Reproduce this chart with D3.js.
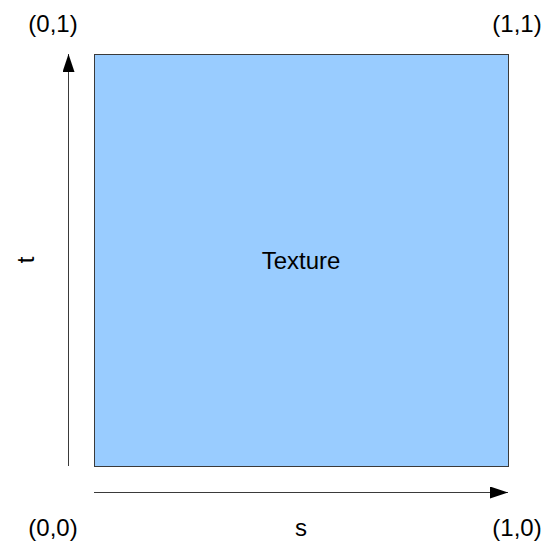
<!DOCTYPE html>
<html>
<head>
<meta charset="utf-8">
<script src="https://cdn.jsdelivr.net/npm/d3@7"></script>
<style>
  body { margin: 0; background: #fff; }
  text { font-family: "Liberation Sans", Arial, sans-serif; fill: #000; }
</style>
</head>
<body>
<div id="chart"></div>
<script>
// texture coordinate corners
const cornerS = [0, 1, 0, 1];
const cornerT = [1, 1, 0, 0];
const cornerLabels = ['(0,1)', '(1,1)', '(0,0)', '(1,0)'];
const sDomain = [0, 1];
const tDomain = [0, 1];
const axisNames = ['s', 't'];
const centerLabel = 'Texture';

const width = 547;
const height = 542;

const x = d3.scaleLinear().domain(sDomain).range([94, 508]);
const y = d3.scaleLinear().domain(tDomain).range([466, 54]);

const svg = d3.select('#chart').append('svg')
  .attr('width', width)
  .attr('height', height);

svg.append('defs').append('marker')
  .attr('id', 'head')
  .attr('viewBox', '0 0 18 12')
  .attr('refX', 18)
  .attr('refY', 6)
  .attr('markerWidth', 18)
  .attr('markerHeight', 12)
  .attr('markerUnits', 'userSpaceOnUse')
  .attr('orient', 'auto')
  .append('path')
  .attr('d', 'M0,0 L18,6 L0,12 Z')
  .attr('fill', '#000');

// the texture square
svg.append('rect')
  .attr('x', x(sDomain[0]) + 0.5)
  .attr('y', y(tDomain[1]) + 0.5)
  .attr('width', x(sDomain[1]) - x(sDomain[0]))
  .attr('height', y(tDomain[0]) - y(tDomain[1]))
  .attr('fill', '#99ccff')
  .attr('stroke', '#3a3a3a')
  .attr('stroke-width', 1);

// s arrow
svg.append('line')
  .attr('x1', x(sDomain[0]))
  .attr('x2', x(sDomain[1]))
  .attr('y1', 492.5)
  .attr('y2', 492.5)
  .attr('stroke', '#3a3a3a')
  .attr('stroke-width', 1)
  .attr('marker-end', 'url(#head)');

// t arrow
svg.append('line')
  .attr('x1', 68.5)
  .attr('x2', 68.5)
  .attr('y1', y(tDomain[0]))
  .attr('y2', y(tDomain[1]))
  .attr('stroke', '#3a3a3a')
  .attr('stroke-width', 1)
  .attr('marker-end', 'url(#head)');

// corner labels
svg.selectAll('.corner')
  .data(cornerLabels)
  .enter().append('text')
  .attr('class', 'corner')
  .attr('x', (d, i) => cornerS[i] === 0 ? x(cornerS[i]) - 41 : x(cornerS[i]) + 9)
  .attr('y', (d, i) => cornerT[i] === 1 ? 32 : 536)
  .attr('text-anchor', 'middle')
  .attr('font-size', 24)
  .text(d => d);

svg.append('text')
  .attr('x', d3.mean(sDomain.map(x)))
  .attr('y', 269)
  .attr('text-anchor', 'middle')
  .attr('font-size', 24)
  .text(centerLabel);

svg.append('text')
  .attr('x', d3.mean(sDomain.map(x)))
  .attr('y', 536)
  .attr('text-anchor', 'middle')
  .attr('font-size', 24)
  .text(axisNames[0]);

svg.append('text')
  .attr('transform', 'translate(34,' + d3.mean(tDomain.map(y)) + ') rotate(-90)')
  .attr('text-anchor', 'middle')
  .attr('font-size', 24)
  .text(axisNames[1]);
</script>
</body>
</html>
